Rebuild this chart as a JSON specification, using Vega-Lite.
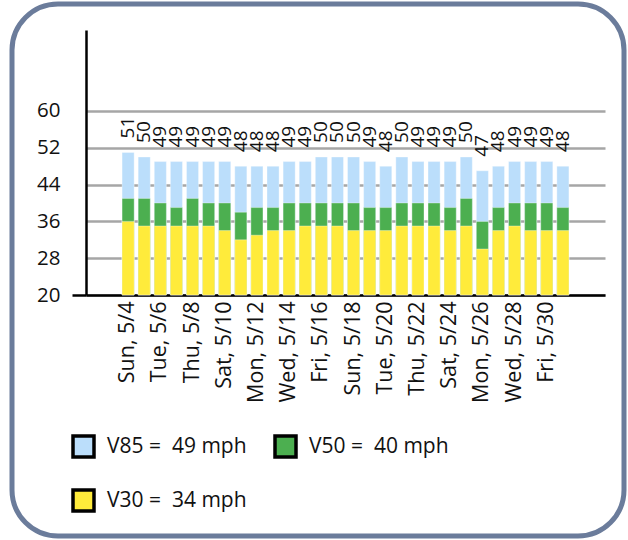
{
  "$schema": "https://vega.github.io/schema/vega-lite/v6.json",
  "width": 612,
  "height": 532,
  "autosize": {"type": "none"},
  "padding": {"left": 12, "top": 4, "right": 4, "bottom": 4},
  "background": "white",
  "config": {
    "font": "Open Sans",
    "view": {"stroke": "#6B7C9B", "strokeWidth": 5, "cornerRadius": 46, "fill": "white"}
  },
  "data": {
    "values": [
      {"day": "Sun, 5/4", "V85": 51, "V50": 41, "V30": 36},
      {"day": "Mon, 5/5", "V85": 50, "V50": 41, "V30": 35},
      {"day": "Tue, 5/6", "V85": 49, "V50": 40, "V30": 35},
      {"day": "Wed, 5/7", "V85": 49, "V50": 39, "V30": 35},
      {"day": "Thu, 5/8", "V85": 49, "V50": 41, "V30": 35},
      {"day": "Fri, 5/9", "V85": 49, "V50": 40, "V30": 35},
      {"day": "Sat, 5/10", "V85": 49, "V50": 40, "V30": 34},
      {"day": "Sun, 5/11", "V85": 48, "V50": 38, "V30": 32},
      {"day": "Mon, 5/12", "V85": 48, "V50": 39, "V30": 33},
      {"day": "Tue, 5/13", "V85": 48, "V50": 39, "V30": 34},
      {"day": "Wed, 5/14", "V85": 49, "V50": 40, "V30": 34},
      {"day": "Thu, 5/15", "V85": 49, "V50": 40, "V30": 35},
      {"day": "Fri, 5/16", "V85": 50, "V50": 40, "V30": 35},
      {"day": "Sat, 5/17", "V85": 50, "V50": 40, "V30": 35},
      {"day": "Sun, 5/18", "V85": 50, "V50": 40, "V30": 34},
      {"day": "Mon, 5/19", "V85": 49, "V50": 39, "V30": 34},
      {"day": "Tue, 5/20", "V85": 48, "V50": 39, "V30": 34},
      {"day": "Wed, 5/21", "V85": 50, "V50": 40, "V30": 35},
      {"day": "Thu, 5/22", "V85": 49, "V50": 40, "V30": 35},
      {"day": "Fri, 5/23", "V85": 49, "V50": 40, "V30": 35},
      {"day": "Sat, 5/24", "V85": 49, "V50": 39, "V30": 34},
      {"day": "Sun, 5/25", "V85": 50, "V50": 41, "V30": 35},
      {"day": "Mon, 5/26", "V85": 47, "V50": 36, "V30": 30},
      {"day": "Tue, 5/27", "V85": 48, "V50": 39, "V30": 34},
      {"day": "Wed, 5/28", "V85": 49, "V50": 40, "V30": 35},
      {"day": "Thu, 5/29", "V85": 49, "V50": 40, "V30": 34},
      {"day": "Fri, 5/30", "V85": 49, "V50": 40, "V30": 34},
      {"day": "Sat, 5/31", "V85": 48, "V50": 39, "V30": 34}
    ]
  },
  "encoding": {
    "x": {
      "field": "day",
      "type": "nominal",
      "sort": null,
      "scale": {
        "domain": ["_p1", "_p2", "Sun, 5/4", "Mon, 5/5", "Tue, 5/6", "Wed, 5/7", "Thu, 5/8", "Fri, 5/9", "Sat, 5/10", "Sun, 5/11", "Mon, 5/12", "Tue, 5/13", "Wed, 5/14", "Thu, 5/15", "Fri, 5/16", "Sat, 5/17", "Sun, 5/18", "Mon, 5/19", "Tue, 5/20", "Wed, 5/21", "Thu, 5/22", "Fri, 5/23", "Sat, 5/24", "Sun, 5/25", "Mon, 5/26", "Tue, 5/27", "Wed, 5/28", "Thu, 5/29", "Fri, 5/30", "Sat, 5/31", "_p3", "_p4"],
        "range": [74, 593],
        "paddingInner": 0.25,
        "paddingOuter": 0.24
      },
      "axis": {
        "title": null,
        "offset": -241,
        "values": ["Sun, 5/4", "Tue, 5/6", "Thu, 5/8", "Sat, 5/10", "Mon, 5/12", "Wed, 5/14", "Fri, 5/16", "Sun, 5/18", "Tue, 5/20", "Thu, 5/22", "Sat, 5/24", "Mon, 5/26", "Wed, 5/28", "Fri, 5/30"],
        "labelAngle": 270,
        "labelFontSize": 21.5,
        "labelColor": "#111111",
        "labelPadding": 6,
        "ticks": false,
        "domainColor": "black",
        "domainWidth": 2.5,
        "grid": false
      }
    }
  },
  "layer": [
    {
      "transform": [{"fold": ["V85", "V50", "V30"], "as": ["series", "speed"]}],
      "mark": {"type": "bar", "stroke": "white", "strokeOpacity": 0.35, "strokeWidth": 1},
      "encoding": {
        "y": {
          "field": "speed",
          "type": "quantitative",
          "stack": null,
          "scale": {"domain": [20, 77.6], "nice": false, "zero": false, "range": [291, 26]},
          "axis": {
            "title": null,
            "offset": -74,
            "values": [20, 28, 36, 44, 52, 60],
            "labelFontSize": 20.5,
            "labelColor": "#111111",
            "tickSize": 14,
            "tickWidth": 2.5,
            "tickColor": {"condition": {"test": "datum.value == 20", "value": "black"}, "value": "transparent"},
            "labelPadding": 12,
            "domainColor": "black",
            "domainWidth": 2.5,
            "grid": true,
            "gridColor": "#A6A6A6",
            "gridWidth": 2.5
          }
        },
        "y2": {"datum": 20},
        "color": {
          "field": "series",
          "type": "nominal",
          "sort": null,
          "scale": {"domain": ["V85", "V50", "V30"], "range": ["#BBDEFB", "#4CAF50", "#FFEB3B"]},
          "legend": {
            "title": null,
            "orient": "none",
            "legendX": 59,
            "legendY": 430,
            "direction": "horizontal",
            "columns": 2,
            "symbolType": "square",
            "symbolSize": 441,
            "symbolStrokeColor": "black",
            "symbolStrokeWidth": 3.5,
            "symbolOpacity": 1,
            "labelFontSize": 21,
            "labelColor": "#111111",
            "labelOffset": 11,
            "columnPadding": 21,
            "rowPadding": 19,
            "labelExpr": "datum.label == 'V85' ? 'V85 = \u00a049 mph' : datum.label == 'V50' ? 'V50 = \u00a040 mph' : 'V30 = \u00a034 mph'"
          }
        }
      }
    },
    {
      "mark": {"type": "text", "align": "left", "baseline": "middle", "dx": 14, "fontSize": 19, "color": "#111111"},
      "encoding": {
        "y": {"field": "V85", "type": "quantitative"},
        "text": {"field": "V85", "type": "quantitative"},
        "angle": {"value": 270}
      }
    }
  ]
}
